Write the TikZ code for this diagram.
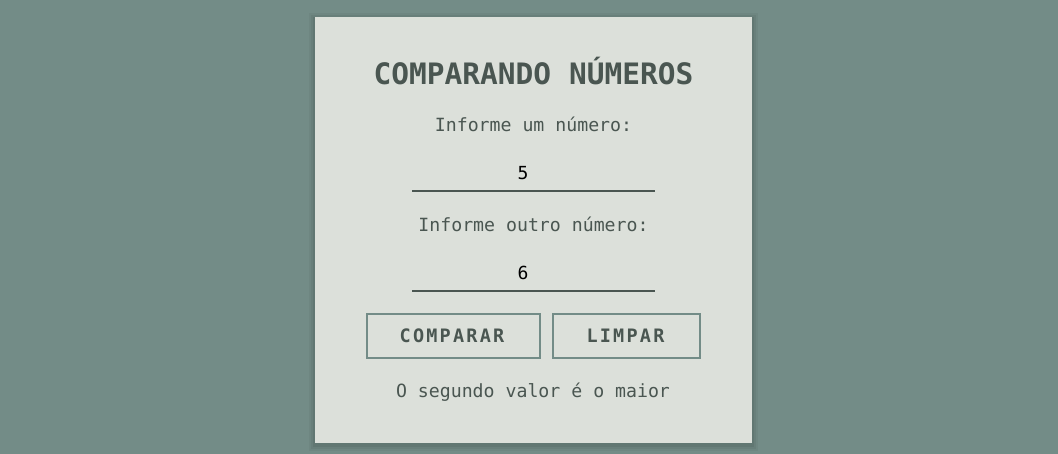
\documentclass[tikz,border=0pt]{standalone}
\usepackage{fontspec}
\setmonofont{DejaVu Sans Mono}
\newfontfamily\btnfont[LetterSpace=12]{DejaVu Sans Mono}
\definecolor{pagebg}{HTML}{738C87}
\definecolor{cardbg}{HTML}{DCE0DA}
\definecolor{inktext}{HTML}{4A5651}
\tikzset{
      card/.style = { fill=cardbg, draw=none },
     title/.style = { font=\ttfamily\bfseries\fontsize{29.5}{31}\selectfont, text=inktext, anchor=base, inner sep=0pt },
     label/.style = { font=\ttfamily\fontsize{18.2}{20}\selectfont, text=inktext, anchor=base, inner sep=0pt },
     value/.style = { font=\ttfamily\fontsize{18}{20}\selectfont, text=black, anchor=base, inner sep=0pt },
     field/.style = { draw=inktext, line width=2pt },
    button/.style = { draw=pagebg, line width=2pt, fill=cardbg },
   btntext/.style = { font=\btnfont\bfseries\fontsize{18.5}{20}\selectfont, text=inktext, anchor=base, inner sep=0pt },
}
\begin{document}
\begin{tikzpicture}[x=1pt, y=-1pt]
  \useasboundingbox [fill=pagebg] (0,0) rectangle (1058,454);
  % card with soft shadow
  \foreach \s/\o in {6/0.04,4/0.05,2/0.06}
    \fill [black, opacity=\o] (315-\s,17-\s+2) rectangle (752+\s,443+\s+2);
  \path [card] (315,17) rectangle (752,443);
  % texts
  \node [title] (title) at (533.5,85) {COMPARANDO NÚMEROS};
  \node [label] (ask1)  at (533.5,132) {Informe um número:};
  \node [value] (num1)  at (523,180) {5};
  \coordinate (f1w) at (412,191.5);
  \coordinate (f1e) at (655,191.5);
  \draw [field] (f1w) -- (f1e);
  \node [label] (ask2)  at (533.5,232) {Informe outro número:};
  \node [value] (num2)  at (523,280) {6};
  \coordinate (f2w) at (412,291.5);
  \coordinate (f2e) at (655,291.5);
  \draw [field] (f2w) -- (f2e);
  % buttons
  \draw [button] (367,314) rectangle (540,358);
  \node [btntext] (compare) at (452,343) {COMPARAR};
  \draw [button] (553,314) rectangle (700,358);
  \node [btntext] (clear) at (625.5,343) {LIMPAR};
  % result
  \node [label] (result) at (533,398) {O segundo valor é o maior};
\end{tikzpicture}
\end{document}
